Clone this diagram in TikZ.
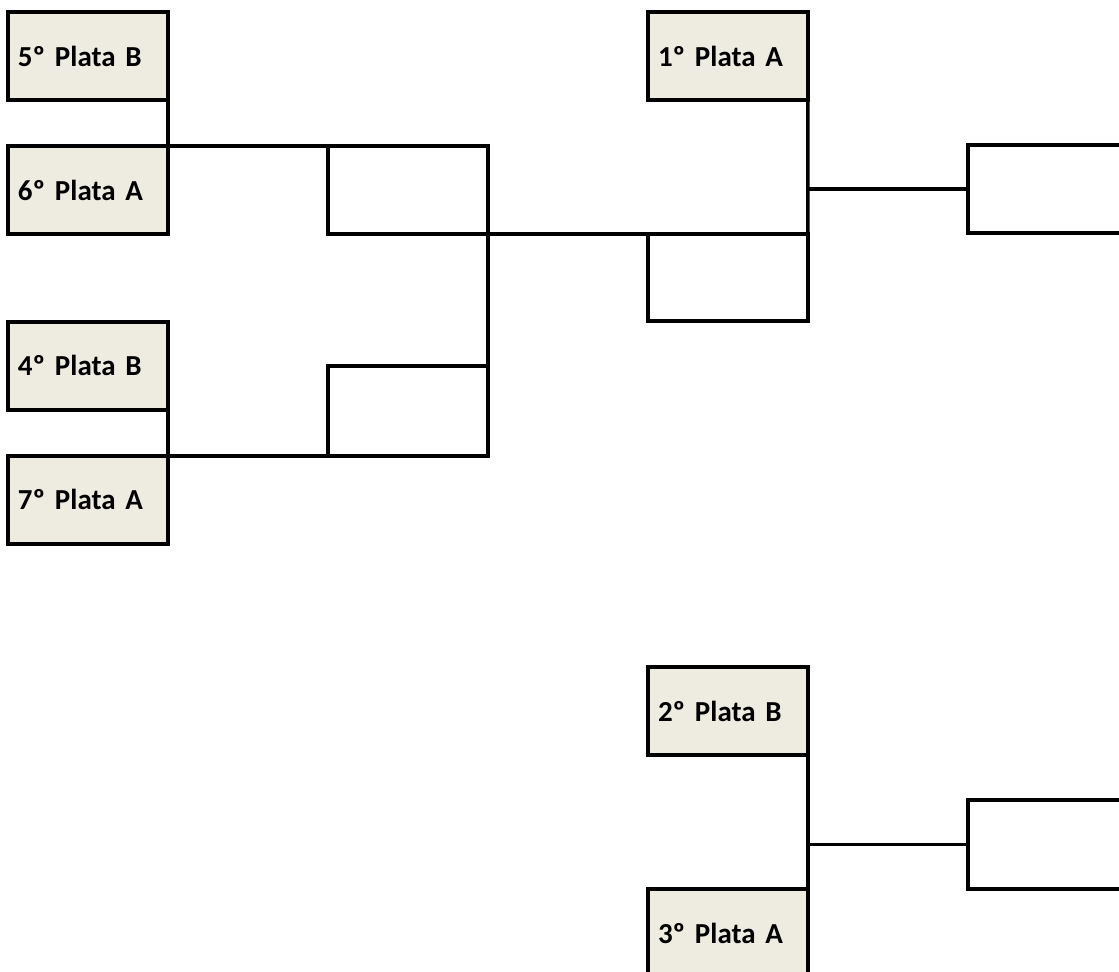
\documentclass[tikz,border=0pt]{standalone}
\usepackage{fontspec}
\setmainfont{Carlito}[WordSpace=0.5]
\usetikzlibrary{positioning, calc}
\definecolor{plataBeige}{RGB}{238, 236, 225}
\tikzset{
  team/.style={
    rectangle,
    draw=black,
    line width=2pt,
    fill=plataBeige,
    outer sep=0pt,
    inner xsep=0.2cm,
    inner ysep=0pt,
    minimum height=1.76cm,
    text width=2.8cm,
    align=left,
    font=\fontsize{16.5}{18}\selectfont\bfseries
  },
  slot/.style={
    rectangle,
    draw=black,
    line width=2pt,
    fill=white,
    outer sep=0pt,
    minimum width=3.2cm,
    minimum height=1.76cm
  },
  link/.style={
    draw=black,
    line width=2pt,
    line cap=rect
  }
}

\begin{document}
\begin{tikzpicture}[x=0.02cm, y=-0.02cm]
  \useasboundingbox (0,0) rectangle (1119,972);
  \clip (0,0) rectangle (1119,972);

  % Left side of the bracket
  \node[team, anchor=north west] (p5B) at (8,12) {5º Plata B};
  \node[team, below=0.92cm of p5B] (p6A) {6º Plata A};
  \node[team, below=1.76cm of p6A] (p4B) {4º Plata B};
  \node[team, below=0.92cm of p4B] (p7A) {7º Plata A};
  \node[slot, anchor=north west] (qf1) at ($(p6A.north east)+(160,0)$) {};
  \node[slot, anchor=south west, minimum height=1.8cm] (qf2) at ($(p7A.north east)+(160,0)$) {};

  % Middle and final
  \node[team, anchor=north west] (p1A) at (648,12) {1º Plata A};
  \node[slot, anchor=north west, minimum height=1.74cm] (sf1) at ($(qf1.south east)+(160,0)$) {};
  \node[slot, anchor=north west] (fin1) at (968,145) {};

  % Lower bracket
  \node[team, anchor=north west] (p2B) at (648,667) {2º Plata B};
  \node[team, anchor=north west] (p3A) at (648,889) {3º Plata A};
  \node[slot, anchor=north west, minimum height=1.78cm] (fin2) at (968,800) {};

  % Connectors
  \draw[link] (p5B.south east) -- (p6A.north east) -- (qf1.north west);
  \draw[link] (p4B.south east) -- (p7A.north east) -- (qf2.south west);
  \draw[link] (qf1.south east) -- (qf2.north east);
  \draw[link] (qf1.south east) -- (sf1.north west);
  \draw[link] (p1A.south east) -- (sf1.north east);
  \draw[link] (fin1.west) -- (fin1.west -| p1A.east);
  \draw[link] (p2B.south east) -- (p3A.north east);
  \draw[link] (fin2.west) -- (fin2.west -| p2B.east);
\end{tikzpicture}
\end{document}
